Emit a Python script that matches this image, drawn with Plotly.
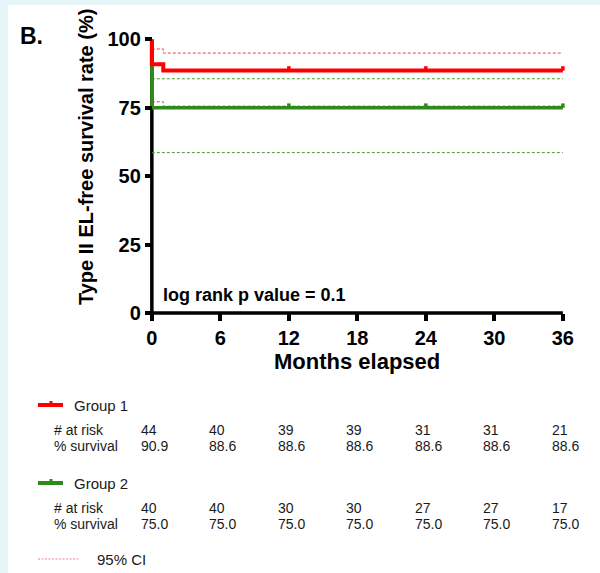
import plotly.graph_objects as go

# ---------------- data ----------------
month_ticks = [0, 6, 12, 18, 24, 30, 36]
surv_ticks = [0, 25, 50, 75, 100]

g1_times = [0, 0, 1, 36]
g1_surv = [100, 90.9, 88.6, 88.6]
g2_times = [0, 0, 36]
g2_surv = [100, 75.0, 75.0]

g1_ci_times = [0, 1, 36]
g1_ci_upper = [96.5, 95.0, 95.0]
g1_ci_lower = [77.2, 75.6, 75.6]
g2_ci_times = [0, 36]
g2_ci_upper = [85.6, 85.6]
g2_ci_lower = [58.6, 58.6]

g1_censor_times = [12, 24, 36]
g1_censor_surv = [88.6, 88.6, 88.6]
g2_censor_times = [12, 24, 36]
g2_censor_surv = [75.0, 75.0, 75.0]

g1_at_risk = ["44", "40", "39", "39", "31", "31", "21"]
g1_pct = ["90.9", "88.6", "88.6", "88.6", "88.6", "88.6", "88.6"]
g2_at_risk = ["40", "40", "30", "30", "27", "27", "17"]
g2_pct = ["75.0", "75.0", "75.0", "75.0", "75.0", "75.0", "75.0"]

RED = "#ff0000"
GREEN = "#2f8a1a"
RED_CI = "#ee4444"
GREEN_CI = "#4a9c3a"
BG = "#e6f5f7"

# ---------------- layout geometry ----------------
W, H = 600, 573
L, R, T, B = 145, 28, 34, 256
PW, PH = W - L - R, H - T - B


def px(x):
    return (x - L) / PW


def py(y):
    return (H - B - y) / PH


FONT = "Liberation Sans, Arial, Helvetica, sans-serif"

fig = go.Figure()

# CI lines
for t, v, c in [(g1_ci_times, g1_ci_upper, RED_CI), (g1_ci_times, g1_ci_lower, RED_CI),
                (g2_ci_times, g2_ci_upper, GREEN_CI), (g2_ci_times, g2_ci_lower, GREEN_CI)]:
    fig.add_trace(go.Scatter(x=t, y=v, mode="lines", line=dict(color=c, width=1, dash="3px,2px", shape="hv"),
                             hoverinfo="skip", showlegend=False))

# KM curves (group 2 first so group 1 draws on top)
fig.add_trace(go.Scatter(x=g2_times, y=g2_surv, mode="lines", line=dict(color=GREEN, width=3.5, shape="hv"),
                         showlegend=False))
fig.add_trace(go.Scatter(x=g1_times, y=g1_surv, mode="lines", line=dict(color=RED, width=4, shape="hv"),
                         showlegend=False))


# censor ticks (short upward strokes)
def censor_xy(times, surv, h=1.6):
    xs, ys = [], []
    for t, s in zip(times, surv):
        xs += [t, t, None]
        ys += [s, s + h, None]
    return xs, ys


cx, cy = censor_xy(g2_censor_times, g2_censor_surv)
fig.add_trace(go.Scatter(x=cx, y=cy, mode="lines", line=dict(color=GREEN, width=3.5), showlegend=False))
cx, cy = censor_xy(g1_censor_times, g1_censor_surv)
fig.add_trace(go.Scatter(x=cx, y=cy, mode="lines", line=dict(color=RED, width=3.5), showlegend=False))

shapes = [
    dict(type="rect", xref="paper", yref="paper", x0=px(8), x1=px(600), y0=py(573), y1=py(5),
         fillcolor="white", line=dict(width=0), layer="below"),
    dict(type="line", xref="x", yref="y", x0=0, x1=0, y0=0, y1=max(surv_ticks),
         line=dict(color="black", width=3.5), layer="below"),
    dict(type="line", xref="x", yref="y", x0=0, x1=max(month_ticks), y0=0, y1=0,
         line=dict(color="black", width=3.5), layer="below"),
    # legend glyphs
    dict(type="line", xref="paper", yref="paper", x0=px(38), x1=px(63), y0=py(405), y1=py(405),
         line=dict(color=RED, width=4)),
    dict(type="line", xref="paper", yref="paper", x0=px(51), x1=px(51), y0=py(405), y1=py(401),
         line=dict(color=RED, width=3)),
    dict(type="line", xref="paper", yref="paper", x0=px(38), x1=px(63), y0=py(483), y1=py(483),
         line=dict(color=GREEN, width=4)),
    dict(type="line", xref="paper", yref="paper", x0=px(51), x1=px(51), y0=py(483), y1=py(479),
         line=dict(color=GREEN, width=3)),
    dict(type="line", xref="paper", yref="paper", x0=px(38), x1=px(80), y0=py(559), y1=py(559),
         line=dict(color="#f07f8a", width=1, dash="2px,1.5px")),
]

ann = []
ann.append(dict(text="B.", x=px(18), y=py(36), xref="paper", yref="paper", xanchor="left", yanchor="middle",
                showarrow=False, font=dict(family=FONT, size=23, color="black", weight="bold")))
ann.append(dict(text="Type II EL-free survival rate (%)", x=px(86), y=py(157), xref="paper", yref="paper",
                xanchor="center", yanchor="middle", textangle=-90, showarrow=False,
                font=dict(family=FONT, size=20, color="black", weight="bold")))
ann.append(dict(text="Months elapsed", x=18, y=py(361), xref="x", yref="paper", xanchor="center",
                yanchor="middle", showarrow=False, font=dict(family=FONT, size=22, color="black", weight="bold")))
ann.append(dict(text="log rank p value = 0.1", x=px(161), y=py(295), xref="paper", yref="paper",
                xanchor="left", yanchor="middle", showarrow=False,
                font=dict(family=FONT, size=18, color="black", weight="bold")))

TF = dict(family=FONT, size=14, color="#1a1a1a")
GF = dict(family=FONT, size=15, color="#1a1a1a")
for label, ypix in [("Group 1", 405), ("Group 2", 483)]:
    ann.append(dict(text=label, x=px(72), y=py(ypix), xref="paper", yref="paper", xanchor="left",
                    yanchor="middle", showarrow=False, font=GF))
ann.append(dict(text="95% CI", x=px(95), y=py(559), xref="paper", yref="paper", xanchor="left",
                yanchor="middle", showarrow=False, font=GF))

for risk, pct, y1, y2 in [(g1_at_risk, g1_pct, 430, 446), (g2_at_risk, g2_pct, 508, 524)]:
    ann.append(dict(text="# at risk", x=px(52), y=py(y1), xref="paper", yref="paper", xanchor="left",
                    yanchor="middle", showarrow=False, font=TF))
    ann.append(dict(text="% survival", x=px(52), y=py(y2), xref="paper", yref="paper", xanchor="left",
                    yanchor="middle", showarrow=False, font=TF))
    for t, r_, p_ in zip(month_ticks, risk, pct):
        ann.append(dict(text=r_, x=t, y=py(y1), xref="x", yref="paper", xanchor="left", xshift=-13,
                        yanchor="middle", showarrow=False, font=TF))
        ann.append(dict(text=p_, x=t, y=py(y2), xref="x", yref="paper", xanchor="left", xshift=-13,
                        yanchor="middle", showarrow=False, font=TF))

x_range = [-0.6, 36.8]
y_range = [-1.5, 101.97]

fig.update_layout(
    width=W, height=H,
    margin=dict(l=L, r=R, t=T, b=B),
    paper_bgcolor=BG,
    plot_bgcolor="rgba(0,0,0,0)",
    shapes=shapes,
    annotations=ann,
    showlegend=False,
    xaxis=dict(range=x_range, tickvals=month_ticks, ticks="outside", ticklen=7, tickwidth=3.5,
               tickcolor="black", showline=False, showgrid=False, zeroline=False, anchor="free",
               position=(0 - y_range[0]) / (y_range[1] - y_range[0]),
               tickfont=dict(family=FONT, size=20, color="black", weight="bold")),
    yaxis=dict(range=y_range, tickvals=surv_ticks, ticks="outside", ticklen=7, tickwidth=3.5,
               tickcolor="black", showline=False, showgrid=False, zeroline=False, anchor="free",
               position=(0 - x_range[0]) / (x_range[1] - x_range[0]),
               tickfont=dict(family=FONT, size=20, color="black", weight="bold")),
)

fig.write_html(
    "out.html",
    config={"displayModeBar": False},
    post_script="document.body.style.margin='0';document.body.style.padding='0';"
                "document.body.style.overflow='hidden';document.body.style.background='" + BG + "';",
)
